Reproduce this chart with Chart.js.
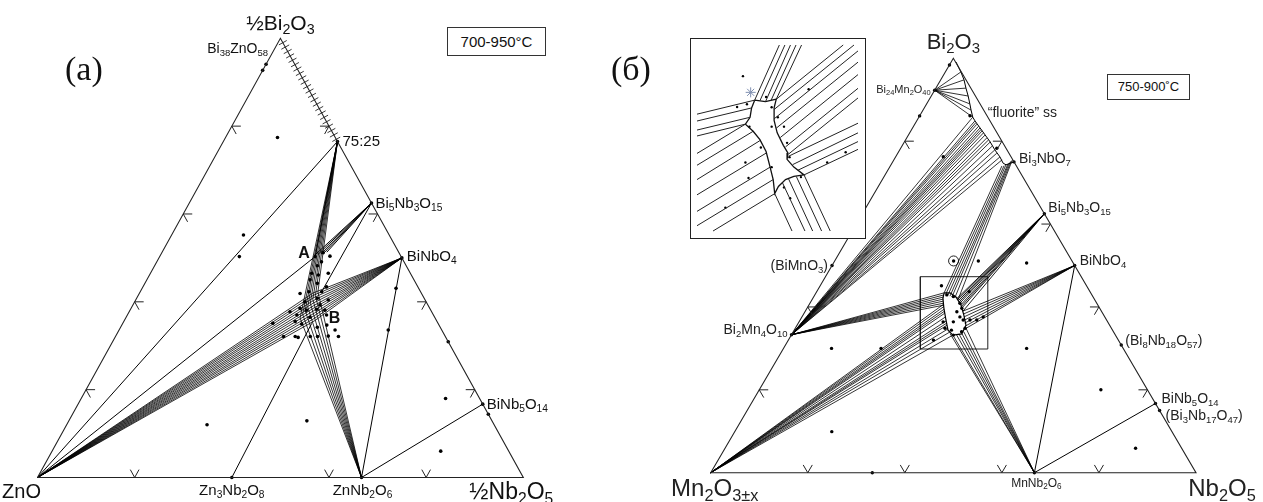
<!DOCTYPE html>
<html>
<head>
<meta charset="utf-8">
<script src="https://cdn.jsdelivr.net/npm/chart.js@4.4.1/dist/chart.umd.min.js"></script>
<style>
  html, body { margin: 0; padding: 0; background: #fff; }
  #page { position: relative; width: 1263px; height: 502px; overflow: hidden; font-family: "Liberation Sans", Arial, sans-serif; color: #111; }
  #page canvas { position: absolute; }
  .lbl { position: absolute; white-space: nowrap; line-height: 1; }
  .lbl sub { font-size: 68%; vertical-align: -0.3em; line-height: 0; }
  .tag { position: absolute; font-family: "Liberation Serif", "Times New Roman", serif; font-size: 34px; line-height: 1; }
  .temp { position: absolute; border: 1px solid #333; box-sizing: border-box; text-align: center; background: #fff; }
  #insetBox { position: absolute; left: 690px; top: 38px; width: 176px; height: 201px; border: 1.4px solid #222; box-sizing: border-box; background: #fff; }
</style>
</head>
<body>
<div id="page">
  <canvas id="chartA" width="620" height="502" style="left:0;top:0"></canvas>
  <canvas id="chartB" width="643" height="502" style="left:620px;top:0"></canvas>
  <div id="insetBox"><canvas id="chartInset" width="173" height="198" style="left:0;top:0"></canvas></div>
  <div class="tag" style="left:65px;top:52px">(a)</div>
  <div class="tag" style="left:611px;top:52px">(б)</div>
  <div class="temp" style="left:447px;top:27px;width:99px;height:29px;font-size:15px;line-height:27px">700-950°C</div>
  <div class="temp" style="left:1107px;top:74px;width:83px;height:26px;font-size:13px;line-height:24px">750-900˚C</div>
</div>
<script>
// ---------- panel (a): ZnO – ½Nb2O5 – ½Bi2O3, points are [mol% ½Nb2O5, mol% ½Bi2O3]
const aBi38ZnO58 = [0, 97.4];
const a7525 = [23.5, 76.5];
const aBi5Nb3O15 = [37.5, 62.5];
const aBiNbO4 = [50, 50];
const aBiNb5O14 = [83.3, 16.7];
const aZnNb2O6 = [66.7, 0];
const aZn3Nb2O8 = [40, 0];
const aPyroA = [32.0, 50.3];
const aPyroB = [37.9, 37.4];

// pyrochlore compositions reached by the ZnO and BiNbO4 tie lines
const aPyroZnO = [[35.7, 42.0], [36.0, 41.45], [36.3, 40.9], [36.65, 40.3], [36.95, 39.75], [37.3, 39.15],
  [37.6, 38.6], [37.9, 38.0], [38.3, 37.45], [38.6, 36.9], [38.95, 36.3], [39.25, 35.75]];
// pyrochlore compositions reached by the 75:25 and ZnNb2O6 tie lines
const aPyroVert = [[35.9, 36.3], [36.0, 37.15], [36.1, 38.0], [36.2, 38.85], [36.3, 39.7], [36.4, 40.55], [36.5, 41.4], [36.6, 42.25]];
const aFanBi5Nb3O15 = [[31.8, 50.7], [32.35, 50.8], [32.9, 50.9], [33.4, 51.1], [33.9, 51.3]];
const aTieLines = [
  [[0, 0], a7525], [[0, 0], aPyroA], [a7525, aPyroA], [aZn3Nb2O8, [38.9, 35.1]],
  [aBiNbO4, aZnNb2O6], [aZnNb2O6, aBiNb5O14], [aBi5Nb3O15, [37.35, 42.3]]
];
const aHatchBi = [77, 78, 79, 80, 81, 82, 83, 84, 85, 86, 87, 88, 89, 90, 91, 92, 93, 94, 95, 96, 97, 98, 99];
const aPhasePts = [a7525, aBi5Nb3O15, aBiNbO4, aBiNb5O14, aZnNb2O6, aZn3Nb2O8, aPyroA];
const aDots = [
  [0, 94.1], [0, 92.7], [10.7, 77.4], [14.8, 55.2], [16.4, 50.3], [28.9, 12.0], [49.0, 12.9],
  [52.25, 43.1], [55.4, 33.6], [69.1, 30.9], [75.0, 18.0], [85.6, 14.4], [80.0, 6.0],
  [33.2, 51.2], [35.0, 50.4], [33.9, 49.1], [33.5, 48.2], [33.2, 46.5], [34.75, 46.1], [36.6, 46.5],
  [33.6, 45.0], [35.5, 44.2], [37.8, 43.4], [33.1, 41.9], [34.7, 42.3], [37.35, 42.3], [37.2, 40.8],
  [39.65, 40.4], [35.05, 40.0], [38.5, 39.3], [34.8, 38.5], [36.3, 38.1], [38.3, 38.3], [40.1, 38.1],
  [33.1, 37.75], [34.9, 37.0], [37.85, 36.5], [41.0, 37.0], [30.9, 35.1], [35.3, 35.5], [36.9, 34.95],
  [40.5, 34.2], [42.2, 34.7], [44.45, 33.6], [34.6, 32.1], [37.0, 32.1], [37.7, 31.9], [40.1, 32.1],
  [41.6, 32.1], [43.75, 32.2], [45.9, 32.1]
];
const aGridLeft = [20, 40, 60, 80];
const aGridBottom = [20, 60, 80];
const aGridRight = [20, 40, 60, 80];
const aLabelText = ['½Bi<sub>2</sub>O<sub>3</sub>', 'Bi<sub>38</sub>ZnO<sub>58</sub>', '75:25',
  'Bi<sub>5</sub>Nb<sub>3</sub>O<sub>15</sub>', 'BiNbO<sub>4</sub>', 'BiNb<sub>5</sub>O<sub>14</sub>',
  'ZnNb<sub>2</sub>O<sub>6</sub>', 'Zn<sub>3</sub>Nb<sub>2</sub>O<sub>8</sub>', 'ZnO', '½Nb<sub>2</sub>O<sub>5</sub>', 'A', 'B'];
const aLabelAt = [[0, 100], aBi38ZnO58, a7525, aBi5Nb3O15, aBiNbO4, aBiNb5O14, aZnNb2O6, aZn3Nb2O8, [0, 0], [100, 0], aPyroA, aPyroB];

// ---------- panel (б): Mn2O3 – Nb2O5 – Bi2O3, points are [mol% Nb2O5, mol% Bi2O3]
const bBi24Mn2O40 = [0, 92.3];
const bBiMnO3 = [0, 50];
const bBi2Mn4O10 = [0, 33.3];
const bBi3NbO7 = [25, 75];
const bBi5Nb3O15 = [37.5, 62.5];
const bBiNbO4 = [50, 50];
const bBi8Nb18O57 = [69.2, 30.8];
const bBiNb5O14 = [83.3, 16.7];
const bBi3Nb17O47 = [85, 15];
const bMnNb2O6 = [66.7, 0];
const bFluorite = [[1.0, 99.1], [3.2, 96.7], [4.8, 94.8], [6.2, 92.8], [7.6, 90.9], [8.9, 89.0], [9.9, 87.5], [11.1, 85.8],
  [12.0, 84.9], [13.9, 83.2], [15.8, 81.5], [17.7, 79.8], [19.6, 77.9], [21.5, 76.2], [22.9, 74.7], [23.7, 74.3], [25, 75]];
const bPyro = [[26.4, 43.4], [27.6, 43.4], [29.35, 42.4], [31.3, 40.5], [33.1, 38.1], [34.8, 35.6], [35.0, 33.5],
  [33.3, 33.2], [31.7, 34.4], [30.05, 36.85], [28.2, 39.7], [26.8, 42.1], [26.4, 43.4]];
const bFanBi24 = [[3.2, 96.7], [4.8, 94.8], [6.2, 92.8], [7.6, 90.9], [8.9, 89.0], [9.9, 87.5], [11.1, 85.8]];
const bFanBi2Mn4Fl = [[11.1, 85.8], [12.0, 84.9], [12.4, 84.5], [12.8, 84.1], [13.4, 83.6], [13.9, 83.2], [14.3, 82.8],
  [14.7, 82.5], [15.2, 82.0], [15.8, 81.5], [16.5, 80.8], [17.1, 80.3], [17.7, 79.8], [18.6, 78.8], [19.6, 77.9],
  [20.4, 77.1], [21.5, 76.2], [22.3, 75.5]];
const bFanBi2Mn4Py = [[26.4, 43.4], [26.6, 42.9], [26.8, 42.4], [27.0, 41.9], [27.2, 41.4], [27.5, 40.9], [27.7, 40.4]];
const bFanMn2O3 = [[27.7, 40.7], [28.0, 40.1], [28.4, 39.5], [28.7, 39.0], [29.0, 38.5], [29.6, 37.6], [30.2, 36.6],
  [30.6, 36.1], [30.9, 35.6], [31.55, 34.7], [32.3, 33.95], [33.3, 33.2]];
const bFanMnNb2O6 = [[32.6, 33.5], [33.3, 33.2], [33.8, 33.5], [34.4, 33.5], [35.05, 33.5], [35.2, 33.95], [35.15, 34.9]];
const bFanBi5Nb3O15 = [[29.7, 42.0], [30.0, 41.8], [30.3, 41.55], [30.6, 41.25], [30.9, 40.95], [31.3, 40.5], [31.6, 40.1],
  [31.9, 39.75], [32.5, 39.0]];
const bFanBiNbO4 = [[32.5, 39.0], [32.95, 38.3], [33.4, 37.6], [33.9, 36.85], [34.3, 36.1], [34.8, 35.4], [35.06, 34.7]];
const bBandBi3Top = [[23.0, 74.0], [23.4, 74.1], [23.7, 74.25], [24.0, 74.5], [24.15, 74.85], [24.3, 75.2], [24.4, 75.6]];
const bBandBi3Bottom = [[26.4, 43.4], [26.9, 43.1], [27.45, 42.9], [28.0, 42.6], [28.5, 42.4], [29.2, 42.2], [30.1, 41.7]];
const bTieLines = [[bBiNbO4, bMnNb2O6], [bMnNb2O6, bBiNb5O14]];
const bZoomBox = { x: [43.2, 57.1], y: [29.85, 47.3] };
const bCircled = [24.5, 51.1];
const bPhasePts = [bBi24Mn2O40, bBiMnO3, bBi2Mn4O10, bBi3NbO7, bBi5Nb3O15, bBiNbO4, bBi8Nb18O57, bBiNb5O14, bBi3Nb17O47, bMnNb2O6];
const bDots = [
  [0, 98.4], [0, 86.1], [10.35, 86.15], [9.8, 76.25], [19.8, 78.3], [24.5, 51.1], [29.6, 51.1], [39.8, 50.6],
  [25.0, 45.1], [31.4, 43.7], [9.9, 30.0], [20.1, 30.0], [50.1, 30.0], [20.0, 9.9], [70.4, 20.0], [84.6, 5.9], [33.3, 0],
  [27.2, 42.9], [28.75, 42.5], [30.9, 40.9], [31.9, 39.7], [31.3, 38.85], [32.55, 37.6], [33.6, 36.85], [29.7, 36.4],
  [31.8, 36.4], [30.85, 34.85], [32.4, 34.4], [34.7, 34.0], [35.0, 34.85], [33.4, 33.2], [29.9, 32.0], [36.4, 36.85],
  [37.35, 37.6], [35.0, 36.85]
];
const bGridLeft = [20, 40, 60, 80];
const bGridBottom = [20, 40, 60, 80];
const bGridRight = [20, 40, 60, 80];
const bLabelText = ['Bi<sub>2</sub>O<sub>3</sub>', 'Bi<sub>24</sub>Mn<sub>2</sub>O<sub>40</sub>', '“fluorite” ss', 'Bi<sub>3</sub>NbO<sub>7</sub>',
  'Bi<sub>5</sub>Nb<sub>3</sub>O<sub>15</sub>', 'BiNbO<sub>4</sub>', '(BiMnO<sub>3</sub>)', 'Bi<sub>2</sub>Mn<sub>4</sub>O<sub>10</sub>',
  '(Bi<sub>8</sub>Nb<sub>18</sub>O<sub>57</sub>)', 'BiNb<sub>5</sub>O<sub>14</sub>', '(Bi<sub>3</sub>Nb<sub>17</sub>O<sub>47</sub>)',
  'MnNb<sub>2</sub>O<sub>6</sub>', 'Mn<sub>2</sub>O<sub>3±x</sub>', 'Nb<sub>2</sub>O<sub>5</sub>'];
const bLabelAt = [[0, 100], bBi24Mn2O40, [11.1, 85.8], bBi3NbO7, bBi5Nb3O15, bBiNbO4, bBiMnO3, bBi2Mn4O10,
  bBi8Nb18O57, bBiNb5O14, bBi3Nb17O47, bMnNb2O6, [0, 0], [100, 0]];

// ---------- inset (schematic close-up of the pyrochlore field), inset units
const insetBlob = [[195, 185], [230, 190], [265, 182], [258, 210], [258, 250], [268, 290], [288, 330], [303, 355], [300, 375],
  [322, 400], [355, 425], [322, 430], [295, 440], [272, 462], [260, 485], [255, 440], [245, 400], [232, 350], [212, 312],
  [190, 285], [165, 262], [180, 240], [185, 210], [195, 185]];
const insetTies = [
  [[195, 185], [275, 8]], [[212, 187], [293, 8]], [[230, 190], [311, 8]], [[248, 186], [329, 8]], [[265, 182], [347, 8]],
  [[265, 182], [482, 8]], [[258, 215], [517, 8]], [[258, 245], [530, 27]], [[265, 275], [530, 63]], [[278, 305], [530, 103]],
  [[295, 335], [530, 147]], [[305, 358], [530, 178]],
  [[305, 365], [530, 259]], [[318, 392], [530, 290]], [[335, 410], [530, 318]], [[355, 425], [530, 343]],
  [[260, 485], [316, 605]], [[285, 450], [358, 605]], [[305, 438], [383, 605]], [[330, 430], [412, 605]], [[355, 425], [440, 605]],
  [[165, 262], [8, 356]], [[190, 285], [8, 394]], [[212, 315], [8, 440]], [[232, 355], [8, 489]], [[245, 400], [8, 542]],
  [[255, 440], [8, 588]], [[260, 485], [60, 605]],
  [[195, 185], [8, 230]], [[185, 210], [8, 252]], [[180, 240], [8, 281]], [[165, 262], [8, 300]]
];
const insetDots = [[157, 108], [232, 175], [138, 207], [170, 198], [250, 208], [270, 240], [250, 270], [290, 270], [300, 322],
  [215, 337], [308, 368], [165, 385], [250, 400], [175, 435], [430, 385], [490, 352], [370, 150], [290, 465], [310, 500],
  [100, 530], [345, 432], [178, 270]];
const insetStar = [[182, 160]];

// ---------- helpers
const tern = p => ({ x: p[0] + p[1] / 2, y: p[1] });
const flat = p => ({ x: p[0], y: p[1] });
const GAP = { x: null, y: null };

function segs(pairs, conv) {
  const out = [];
  pairs.forEach(([p, q]) => out.push(conv(p), conv(q), GAP));
  return out;
}
function fan(from, ends) { return segs(ends.map(e => [from, e]), tern); }

function lineSet(data, width, color) {
  return { data, showLine: true, borderWidth: width, borderColor: color || '#000', pointRadius: 0,
    fill: false, spanGaps: false, clip: false, tension: 0 };
}
function dotSet(data, r) {
  return { data, showLine: false, pointRadius: r, pointBackgroundColor: '#000', pointBorderWidth: 0, clip: false };
}

function gridMarks(left, bottom, right) {
  return {
    id: 'gridMarks',
    afterDatasetsDraw(chart) {
      const sx = chart.scales.x, sy = chart.scales.y;
      const px = p => { const t = tern(p); return [sx.getPixelForValue(t.x), sy.getPixelForValue(t.y)]; };
      const L = px([0, 0]), R = px([100, 0]), T = px([0, 100]);
      const unit = (a, b) => { const dx = b[0] - a[0], dy = b[1] - a[1], n = Math.hypot(dx, dy); return [dx / n, dy / n]; };
      const len = 9, ctx = chart.ctx;
      ctx.save();
      ctx.strokeStyle = '#222';
      ctx.lineWidth = 1;
      const mark = (p, d1, d2) => {
        const o = px(p);
        ctx.beginPath();
        ctx.moveTo(o[0] + d1[0] * len, o[1] + d1[1] * len);
        ctx.lineTo(o[0], o[1]);
        ctx.lineTo(o[0] + d2[0] * len, o[1] + d2[1] * len);
        ctx.stroke();
      };
      left.forEach(c => mark([0, c], unit(L, R), unit(T, R)));
      bottom.forEach(b => mark([b, 0], unit(R, T), unit(L, T)));
      right.forEach(c => mark([100 - c, c], unit(R, L), unit(T, L)));
      ctx.restore();
    }
  };
}

function makeChart(id, datasets, padding, scales, plugins) {
  return new Chart(document.getElementById(id), {
    type: 'scatter',
    data: { datasets },
    options: {
      responsive: false, animation: false, events: [], devicePixelRatio: 1,
      layout: { padding },
      plugins: { legend: { display: false }, tooltip: { enabled: false } },
      scales
    },
    plugins: plugins || []
  });
}
const ternScales = {
  x: { type: 'linear', min: 0, max: 100, display: false },
  y: { type: 'linear', min: 0, max: 100, display: false }
};

const shift = { l: 'translate(0,-50%)', r: 'translate(-100%,-50%)', c: 'translate(-50%,0)', cb: 'translate(-50%,-100%)', m: 'translate(-50%,-50%)' };
function placeLabels(chart, offX, names, at, layout, color) {
  const page = document.getElementById('page');
  names.forEach((html, i) => {
    const t = tern(at[i]);
    const [mode, dx, dy, size, bold] = layout[i];
    const el = document.createElement('div');
    el.className = 'lbl';
    el.innerHTML = html;
    el.style.left = (offX + chart.scales.x.getPixelForValue(t.x) + dx) + 'px';
    el.style.top = (chart.scales.y.getPixelForValue(t.y) + dy) + 'px';
    el.style.fontSize = size + 'px';
    el.style.transform = shift[mode];
    el.style.color = color;
    if (bold) el.style.fontWeight = 'bold';
    page.appendChild(el);
  });
}

// ---------- panel (a)
const chartA = makeChart('chartA', [
  lineSet([[0, 0], [100, 0], [0, 100], [0, 0]].map(tern), 1.1, '#222'),
  lineSet(fan([0, 0], aPyroZnO), 0.8),
  lineSet(fan(aBiNbO4, aPyroZnO), 0.8),
  lineSet(fan(a7525, aPyroVert), 0.8),
  lineSet(fan(aZnNb2O6, aPyroVert), 0.8),
  lineSet(fan(aBi5Nb3O15, aFanBi5Nb3O15), 1),
  lineSet(segs(aTieLines, tern), 1),
  { data: aHatchBi.map(c => tern([100 - c, c])), showLine: false, pointStyle: 'line', pointRotation: -29,
    pointRadius: 4.5, pointBorderWidth: 0.9, pointBorderColor: '#222', clip: false },
  dotSet(aPhasePts.map(tern), 1.8),
  dotSet(aDots.map(tern), 1.8)
], { left: 37.5, right: 96.7, top: 38.3, bottom: 24.5 }, ternScales, [gridMarks(aGridLeft, aGridBottom, aGridRight)]);

placeLabels(chartA, 0, aLabelText, aLabelAt, [
  ['cb', 0, -5, 21], ['r', -6, -2, 14], ['l', 5, -2, 15], ['l', 4, -1, 15], ['l', 5, -3, 15], ['l', 4, -1, 15],
  ['c', 1, 4, 15], ['c', 0, 4, 15], ['c', -16, 3, 20], ['c', -12, 2, 23], ['m', -11, -4, 16, true], ['m', 22, 5, 16, true]
], '#111');

// ---------- panel (б)
const zoomRect = [[bZoomBox.x[0], bZoomBox.y[0]], [bZoomBox.x[1], bZoomBox.y[0]], [bZoomBox.x[1], bZoomBox.y[1]],
  [bZoomBox.x[0], bZoomBox.y[1]], [bZoomBox.x[0], bZoomBox.y[0]]].map(flat);
const chartB = makeChart('chartB', [
  lineSet([[0, 0], [100, 0], [0, 100], [0, 0]].map(tern), 1.1, '#222'),
  lineSet(bFluorite.map(tern), 1),
  lineSet(fan(bBi24Mn2O40, bFanBi24), 0.8),
  lineSet(fan(bBi2Mn4O10, bFanBi2Mn4Fl), 0.8),
  lineSet(fan(bBi2Mn4O10, bFanBi2Mn4Py), 0.8),
  lineSet(fan([0, 0], bFanMn2O3), 0.8),
  lineSet(fan(bMnNb2O6, bFanMnNb2O6), 0.8),
  lineSet(fan(bBi5Nb3O15, bFanBi5Nb3O15), 0.9),
  lineSet(fan(bBiNbO4, bFanBiNbO4), 0.8),
  lineSet(segs(bBandBi3Top.map((p, i) => [p, bBandBi3Bottom[i]]), tern), 0.8),
  lineSet(segs(bTieLines, tern), 1),
  lineSet(bPyro.map(tern), 1.2, '#000'),
  lineSet(zoomRect, 1, '#222'),
  { data: [tern(bCircled)], showLine: false, pointRadius: 5, pointBorderWidth: 1, pointBorderColor: '#222',
    pointBackgroundColor: 'rgba(0,0,0,0)', clip: false },
  dotSet(bPhasePts.map(tern), 1.7),
  dotSet(bDots.map(tern), 1.7)
], { left: 90.7, right: 67, top: 58.3, bottom: 29.3 }, ternScales, [gridMarks(bGridLeft, bGridBottom, bGridRight)]);

placeLabels(chartB, 620, bLabelText, bLabelAt, [
  ['cb', 0, -5, 22], ['r', -4, -1, 11], ['l', 15, -5, 14], ['l', 5, -4, 14], ['l', 4, -7, 14], ['l', 5, -6, 14],
  ['r', -4, -1, 14], ['r', -4, -6, 14], ['l', 4, -5, 14], ['l', 6, -5, 14], ['l', 6, 4, 14], ['c', 2, 4, 12],
  ['c', 4, 3, 24], ['c', 26, 3, 24]
], '#222');

// ---------- inset
makeChart('chartInset', [
  lineSet(segs(insetTies, flat), 1, '#222'),
  lineSet(insetBlob.map(flat), 1.3, '#111'),
  dotSet(insetDots.map(flat), 1.2),
  { data: insetStar.map(flat), showLine: false, pointStyle: 'star', pointRadius: 5, pointBorderWidth: 1,
    pointBorderColor: '#7f8fb0', clip: false }
], 0, {
  x: { type: 'linear', min: 8, max: 530, display: false },
  y: { type: 'linear', min: 8, max: 605, reverse: true, display: false }
});
</script>
</body>
</html>
